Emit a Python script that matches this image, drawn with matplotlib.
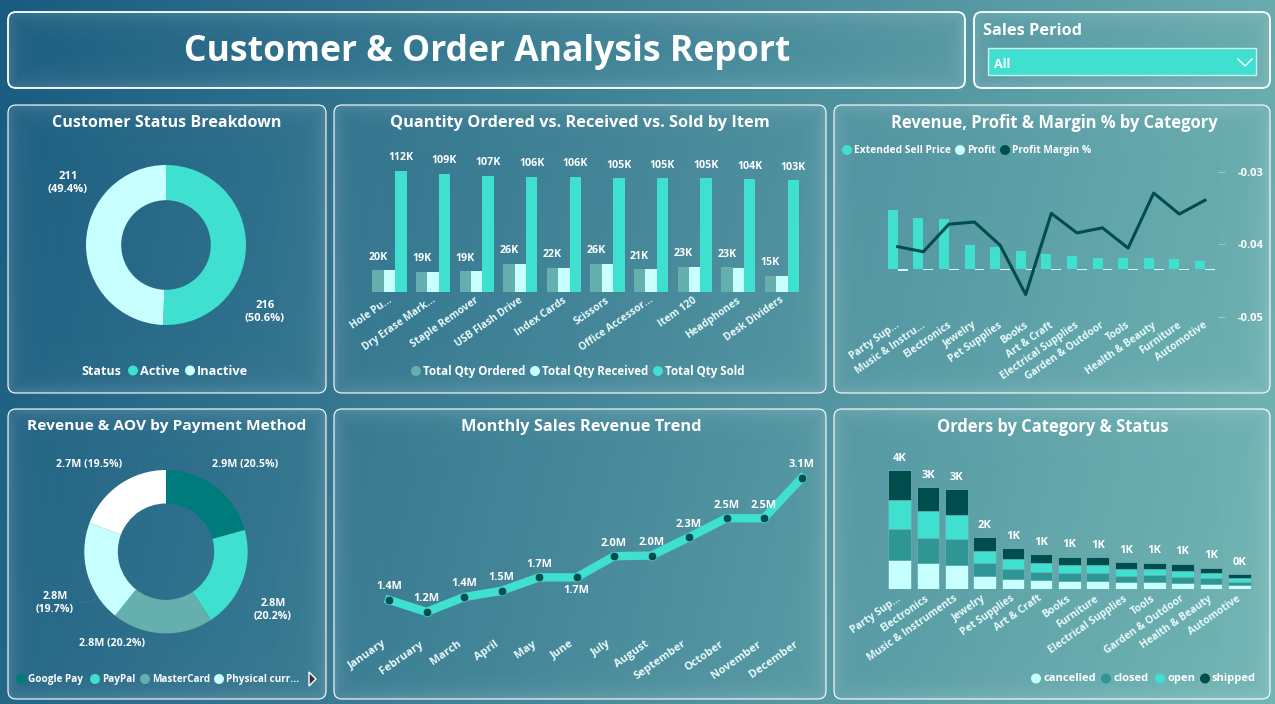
import numpy as np
import matplotlib
matplotlib.use("Agg")
import matplotlib.pyplot as plt
from matplotlib.patches import FancyBboxPatch, Polygon, Circle, Rectangle
from matplotlib.transforms import ScaledTranslation

W, H = 1275, 704
plt.rcParams['font.family'] = ['Open Sans', 'DejaVu Sans']
plt.rcParams['font.weight'] = 'bold'

# colours
TURQ = '#40E0D0'
PALE = '#C8FFFF'
SAGE = '#66AFAF'
DARK = '#004D4D'
TEAL = '#007B7B'
MIDTEAL = '#2F9696'

# customer status
status_names = ['Active', 'Inactive']
status_counts = [216, 211]
status_pct = [50.6, 49.4]

# quantities by item (thousands)
items = ['Hole Pu...', 'Dry Erase Mark...', 'Staple Remover', 'USB Flash Drive', 'Index Cards',
         'Scissors', 'Office Accessor...', 'Item 120', 'Headphones', 'Desk Dividers']
qty_ordered = [20, 18.8, 19.1, 26.2, 22.2, 25.9, 21, 23.1, 22.7, 14.8]
qty_received = [20, 18.7, 19, 26, 22, 25.7, 20.8, 23, 22.6, 14.8]
qty_sold = [112, 109, 107, 106, 106, 105, 105, 105, 104, 103]

# revenue, profit and margin by category
rev_categories = ['Party Sup...', 'Music & Instru...', 'Electronics', 'Jewelry', 'Pet Supplies', 'Books',
                  'Art & Craft', 'Electrical Supplies', 'Garden & Outdoor', 'Tools', 'Health & Beauty',
                  'Furniture', 'Automotive']
ext_sell_price = [5.9, 5.1, 5.0, 2.4, 2.2, 1.8, 1.5, 1.3, 1.05, 1.05, 1.05, 1.0, 0.8]
profit = [-0.2, -0.18, -0.12, -0.1, -0.1, -0.1, -0.1, -0.1, -0.1, -0.1, -0.1, -0.1, -0.1]
margin = [-0.0403, -0.0410, -0.0372, -0.0369, -0.0401, -0.0469, -0.0357, -0.0384, -0.0377,
          -0.0405, -0.0329, -0.0358, -0.0339]
margin_ticks = [-0.03, -0.04, -0.05]

# payment methods
pay_names = ['Google Pay', 'PayPal', 'MasterCard', 'Physical curr...']
pay_values = [2.9, 2.8, 2.8, 2.8, 2.7]
pay_pct = [20.5, 20.2, 20.2, 19.7, 19.5]

# monthly revenue (millions)
months = ['January', 'February', 'March', 'April', 'May', 'June', 'July', 'August',
          'September', 'October', 'November', 'December']
monthly_rev = [1.37, 1.2, 1.41, 1.5, 1.69, 1.69, 1.99, 2.0, 2.26, 2.53, 2.53, 3.1]

# orders by category and status (thousands)
order_categories = ['Party Sup...', 'Electronics', 'Music & Instruments', 'Jewelry', 'Pet Supplies', 'Art & Craft',
                    'Books', 'Furniture', 'Electrical Supplies', 'Tools', 'Garden & Outdoor',
                    'Health & Beauty', 'Automotive']
cancelled = [.89, .79, .73, .40, .30, .26, .25, .24, .21, .21, .18, .16, .11]
closed = [.92, .76, .79, .38, .32, .26, .24, .24, .19, .21, .18, .16, .11]
opened = [.89, .80, .73, .38, .29, .26, .23, .24, .20, .19, .19, .17, .11]
shipped = [.90, .74, .78, .42, .33, .27, .26, .25, .22, .19, .22, .16, .12]
order_labels = ['cancelled', 'closed', 'open', 'shipped']

fig = plt.figure(figsize=(W / 100, H / 100), dpi=100)


def px_axes(left, top, right, bottom):
    # axes from pixel rectangle, y measured from the top of the image
    ax = fig.add_axes([left / W, 1 - bottom / H, (right - left) / W, (bottom - top) / H])
    ax.patch.set_alpha(0)
    for s in ax.spines.values():
        s.set_visible(False)
    return ax


# background gradient
bg = px_axes(0, 0, W, H)
yy, xx = np.mgrid[0:1:60j, 0:1:100j]
t = np.clip(0.88 * xx + 0.12 * yy, 0, 1)[..., None]
c0 = np.array([0x1A, 0x5C, 0x80]) / 255
c1 = np.array([0x72, 0xB6, 0xB4]) / 255
bg.imshow(c0 + (c1 - c0) * t, extent=[0, W, H, 0], aspect='auto', interpolation='bilinear', zorder=0)


def panel(x0, y0, x1, y1, lw=0.8):
    patch = FancyBboxPatch((x0, y0), x1 - x0, y1 - y0, boxstyle="round,pad=0,rounding_size=8",
                           fc='none', ec='white', lw=lw, zorder=3)
    bg.add_patch(patch)
    # glassy glow towards the panel edge
    n = y1 - y0
    m = x1 - x0
    ys, xs = np.mgrid[0:n, 0:m]
    d = np.minimum.reduce([xs, ys, m - 1 - xs, n - 1 - ys])
    glow = np.ones((n, m, 4))
    glow[..., 3] = 0.015 + 0.13 * np.exp(-d / 9.0)
    im = bg.imshow(glow, extent=[x0, x1, y1, y0], aspect='auto', zorder=2)
    im.set_clip_path(patch)


panel(8, 12, 965, 88, lw=1.3)
panel(974, 12, 1270, 88, lw=1.3)
panel(8, 105, 326, 393)
panel(334, 105, 826, 393)
panel(834, 105, 1270, 393)
panel(8, 409, 326, 699)
panel(334, 409, 826, 699)
panel(834, 409, 1270, 699)
bg.set_xlim(0, W)
bg.set_ylim(H, 0)
bg.set_xticks([])
bg.set_yticks([])


def label(x, y, s, size=8, ha='center', color='white', **kw):
    # small downward nudge, Open Sans sits high with va=center
    bg.text(x, y + 0.12 * size, s, fontsize=size, ha=ha, va='center', color=color, zorder=6, **kw)


def legend_row(names, colors, marker_xs, y, size=8):
    for name, col, mx in zip(names, colors, marker_xs):
        bg.add_patch(Circle((mx, y), 5, fc=col, ec='none', zorder=6))
        label(mx + 7, y - 0.5, name, size=size, ha='left')


def style_cat_axis(ax, names, size=8, pad=3, dx=-3):
    ax.set_xticks(range(len(names)))
    ax.set_xticklabels(names, rotation=35, ha='right', rotation_mode='anchor',
                       fontsize=size, color='#E8FBFB')
    ax.tick_params(axis='x', length=0, pad=pad)
    ax.set_yticks([])
    shift = ScaledTranslation(dx / 100, 0, fig.dpi_scale_trans)
    for lbl in ax.get_xticklabels():
        lbl.set_transform(lbl.get_transform() + shift)


# header
label(487, 49, 'Customer & Order Analysis Report', size=25.6)
label(983, 30, 'Sales Period', size=11.8, ha='left')
bg.add_patch(Rectangle((988, 48), 268, 27, fc=TURQ, ec='#CDEFEA', lw=1, zorder=5))
label(994, 63, 'All', size=9, ha='left')
bg.plot([1238, 1245, 1252], [59, 66, 59], color='white', lw=1, zorder=6)

# titles
label(167, 122, 'Customer Status Breakdown', size=11.6)
label(580, 122, 'Quantity Ordered vs. Received vs. Sold by Item', size=11.8)
label(1054, 122, 'Revenue, Profit & Margin % by Category', size=11.9)
label(167, 425, 'Revenue & AOV by Payment Method', size=11.15)
label(581, 426, 'Monthly Sales Revenue Trend', size=11.8)
label(1053, 426, 'Orders by Category & Status', size=11.9)

# customer donut
ax = px_axes(86, 165, 246, 325)
ax.pie(status_counts, colors=[TURQ, PALE], startangle=90, counterclock=False,
       wedgeprops=dict(width=0.44), radius=1)
ax.set_xlim(-1, 1)
ax.set_ylim(-1, 1)
label(265, 311, f"{status_counts[0]}\n({status_pct[0]}%)", size=8)
label(68, 182, f"{status_counts[1]}\n({status_pct[1]}%)", size=8)
label(81, 370, 'Status', size=9, ha='left')
legend_row(status_names, [TURQ, PALE], [133, 190], 370.5, size=9.2)

# quantity bars
ax = px_axes(367.7, 162, 803.7, 292)
x = np.arange(len(items))
bw = 0.262
ax.bar(x - bw, qty_ordered, bw, color=SAGE)
ax.bar(x, qty_received, bw, color=PALE)
ax.bar(x + bw, qty_sold, bw, color=TURQ)
for i in x:
    ax.annotate(f"{qty_ordered[i]:.0f}K", (i - bw, qty_ordered[i]), xytext=(0, 9.5), textcoords='offset points',
                ha='center', va='center', fontsize=7.7, color='white', annotation_clip=False)
    ax.annotate(f"{qty_sold[i]:.0f}K", (i + bw, qty_sold[i]), xytext=(0, 9.5), textcoords='offset points',
                ha='center', va='center', fontsize=7.7, color='white', annotation_clip=False)
ax.set_xlim(-0.5, len(items) - 0.5)
ax.set_ylim(0, 120)
style_cat_axis(ax, items, size=7.4, pad=2, dx=-2)
legend_row(['Total Qty Ordered', 'Total Qty Received', 'Total Qty Sold'], [SAGE, PALE, TURQ],
           [416, 535, 658], 371, size=8.3)

# revenue / profit / margin combo
ax = px_axes(884.9, 172, 1217.7, 317)
x = np.arange(len(rev_categories))
bw = 0.39
ax.bar(x - bw / 2, ext_sell_price, bw, color=TURQ)
ax.bar(x + bw / 2, profit, bw, color=PALE)
ax.set_xlim(-0.5, len(rev_categories) - 0.5)
ax.set_ylim(-4.83, 9.67)
style_cat_axis(ax, rev_categories, size=7.4, pad=2, dx=-2)
ax2 = ax.twinx()
ax2.patch.set_alpha(0)
for s in ax2.spines.values():
    s.set_visible(False)
ax2.plot(x, margin, color=DARK, lw=2.2)
ax2.set_ylim(-0.05, -0.03)
ax2.set_yticks(margin_ticks)
ax2.set_yticklabels([f"{v:.2f}" for v in margin_ticks], fontsize=8, color='white')
ax2.tick_params(axis='y', length=5, width=0.6, color='#A8CFCF', pad=9, direction='out')
legend_row(['Extended Sell Price', 'Profit', 'Profit Margin %'], [TURQ, PALE, DARK], [847, 960, 1005], 150, size=7.4)

# payment donut
ax = px_axes(84.3, 470, 247.7, 633.4)
ax.pie(pay_values, colors=[TEAL, TURQ, SAGE, PALE, 'white'], startangle=90, counterclock=False,
       wedgeprops=dict(width=0.41), radius=1, normalize=True)
ax.set_xlim(-1, 1)
ax.set_ylim(-1, 1)
pay_pos = [(245, 464), (273, 609), (112, 643), (55, 602), (89, 464)]
pay_break = [False, True, False, True, False]
for v, p, (lx, ly), br in zip(pay_values, pay_pct, pay_pos, pay_break):
    sep = "\n" if br else " "
    label(lx, ly, f"{v}M{sep}({p}%)", size=7.7)
for xs, ys in [([193, 198, 208], [472, 464, 464]), ([233, 240, 250], [601, 608, 608]),
               ([163, 163, 148], [633, 643, 643]), ([97, 88, 80], [598, 602, 602]),
               ([141, 139, 128], [472, 464, 464])]:
    bg.plot(xs, ys, color='#3F6F88', lw=0.8, zorder=5)
legend_row(pay_names, [TEAL, TURQ, SAGE, PALE], [21, 95, 145, 219], 679, size=7.2)
bg.add_patch(Polygon([[309, 672], [309, 686], [316, 679]], fc='#333333', ec='white', lw=1, zorder=6))

# monthly trend
ax = px_axes(370.25, 471, 820.25, 626)
x = np.arange(len(months))
ax.plot(x, monthly_rev, color=TURQ, lw=6, zorder=2, solid_joinstyle='miter')
ax.scatter(x, monthly_rev, s=38, color=DARK, edgecolor=TURQ, linewidth=0.5, zorder=3)
for i in x:
    ax.annotate(f"{monthly_rev[i]:.1f}M", (i, monthly_rev[i]), xytext=(0, 9.5 if i != 5 else -9.5),
                textcoords='offset points', ha='center', va='center', fontsize=7.9, color='white',
                annotation_clip=False)
ax.set_xlim(-0.5, len(months) - 0.5)
ax.set_ylim(1, 3.2)
style_cat_axis(ax, months, size=8, pad=9, dx=-7)

# stacked orders
ax = px_axes(885.5, 457, 1253.4, 589)
x = np.arange(len(order_categories))
base = np.zeros(len(x))
for vals, col in zip([cancelled, closed, opened, shipped], [PALE, MIDTEAL, TURQ, DARK]):
    ax.bar(x, vals, 0.8, bottom=base, color=col, edgecolor=SAGE, linewidth=0.6)
    base = base + np.array(vals)
for i in x:
    ax.annotate(f"{base[i]:.0f}K", (i, base[i]), xytext=(0, 8.5), textcoords='offset points',
                ha='center', va='center', fontsize=8, color='white', annotation_clip=False)
ax.set_xlim(-0.5, len(x) - 0.5)
ax.set_ylim(0, 4)
style_cat_axis(ax, order_categories, size=7.5)
legend_row(order_labels, [PALE, MIDTEAL, TURQ, DARK], [1036, 1106, 1160, 1205], 678.5, size=8)

fig.savefig('out.png', dpi=100)
